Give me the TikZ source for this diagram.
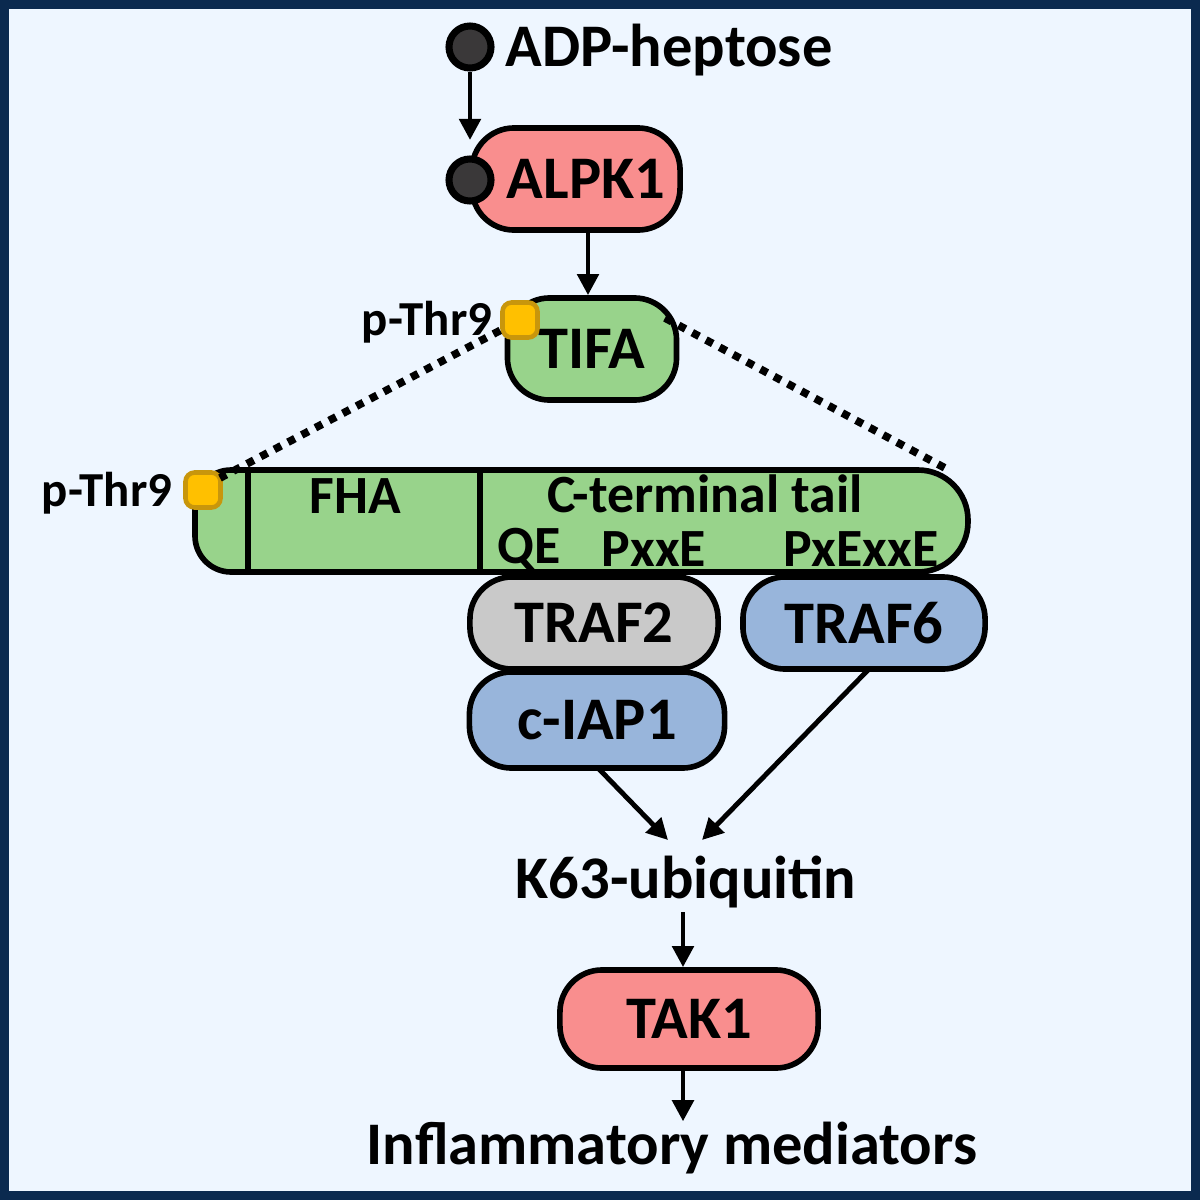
\documentclass[tikz,border=0pt]{standalone}
\usepackage{fontspec}
\setmainfont{Carlito}
\usetikzlibrary{arrows.meta}
\definecolor{bgc}{HTML}{EEF6FF}
\definecolor{navy}{HTML}{0B2A4F}
\definecolor{pinkc}{HTML}{F98E8E}
\definecolor{greenc}{HTML}{98D38B}
\definecolor{greyc}{HTML}{C9C9C9}
\definecolor{bluec}{HTML}{98B5DB}
\definecolor{yelc}{HTML}{FFC000}
\definecolor{yelb}{HTML}{C8960C}
\definecolor{ballc}{HTML}{3A3839}
\tikzset{
  prot/.style={draw=black, line width=1.6pt, rounded corners=0.42cm, font=\bfseries\fontsize{17.2}{19}\selectfont, inner sep=0pt},
  lbl/.style={font=\bfseries\fontsize{17.2}{19}\selectfont, inner sep=0pt},
  small/.style={font=\bfseries\fontsize{15.3}{17}\selectfont, inner sep=0pt},
  tiny/.style={font=\bfseries\fontsize{13.9}{15}\selectfont, inner sep=0pt},
  ball/.style={circle, draw=black, line width=2pt, fill=ballc, minimum size=0.42cm, inner sep=0pt},
  phos/.style={draw=yelb, fill=yelc, line width=1.3pt, rounded corners=2.6pt, minimum size=0.35cm, inner sep=0pt},
  arr/.style={line width=1.4pt, -{Triangle[length=6pt,width=6pt]}},
  dots/.style={line width=2.2pt, dash pattern=on 2.2pt off 2.2pt},
}
\begin{document}
\begin{tikzpicture}[x=0.01cm, y=-0.01cm]
\useasboundingbox (0,0) rectangle (1200,1200);
\fill[bgc] (0,0) rectangle (1200,1200);
\draw[navy, line width=2.6pt] (4.5,4.5) rectangle (1195.5,1195.5);

% ADP-heptose
\node[ball] (b1) at (470,47) {};
\node[lbl, anchor=west] (adp) at (505,50) {ADP-heptose};

% ALPK1
\node[prot, fill=pinkc, minimum width=2.08cm, minimum height=1.02cm] (alpk) at (576,179) {\hspace*{0.2cm}ALPK1};
\node[ball] (b2) at (470,180) {};
\draw[arr] (b1) -- (470,140);

% TIFA
\node[prot, fill=greenc, minimum width=1.69cm, minimum height=1.02cm] (tifa) at (592,349) {\raisebox{-6pt}{TIFA}};
\draw[arr] (alpk.south -| 588,0) -- (tifa.north -| 588,0);
\node[phos] (ph1) at (520,320) {};
\node[tiny, anchor=east] (pt1) at (493,322) {p-Thr9};

% long bar
\draw[line width=1.6pt, fill=greenc] (600,470) [rounded corners=0.36cm] -- (195,470) -- (195,572) -- (600,572) [rounded corners=0.5cm] -- (968,572) -- (968,470) -- cycle;
\draw[line width=1.6pt] (248,470) -- (248,572);
\draw[line width=1.6pt] (480,470) -- (480,572);
\node[small] (fha) at (355,496) {FHA};
\node[small] (ctail) at (705,494) {C-terminal tail};
\node[small] (qe) at (529,549) {QE};
\node[small] (pxxe) at (654,549) {PxxE};
\node[small] (pxexxe) at (861,549) {PxExxE};
\node[phos] (ph2) at (203,490) {};
\node[tiny, anchor=east] (pt2) at (173,493) {p-Thr9};

% dotted zoom lines
\coordinate (d1) at (220,478);
\coordinate (d2) at (945,468);
\coordinate (tne) at (665,318);
\draw[dots] (ph1) -- (d1);
\draw[dots] (tne) -- (d2);

% TRAFs
\node[prot, fill=greyc, minimum width=2.48cm, minimum height=0.92cm] (traf2) at (594,623) {TRAF2};
\node[prot, fill=bluec, minimum width=2.55cm, minimum height=0.96cm] (ciap) at (597,720) {c-IAP1};
\node[prot, fill=bluec, minimum width=2.42cm, minimum height=0.92cm] (traf6) at (864,623) {TRAF6};

% K63
\node[lbl] (k63) at (686,882) {K63-ubiquitin};
\coordinate (k63a) at (668,840);
\coordinate (k63b) at (702,840);
\draw[arr] (598,768) -- (k63a);
\draw[arr] (868,670) -- (k63b);

% TAK1
\node[prot, fill=pinkc, minimum width=2.58cm, minimum height=0.98cm] (tak) at (689,1019) {TAK1};
\draw[arr] (683,912) -- (tak.north -| 683,0);

\node[lbl] (infl) at (672,1148) {Inflammatory mediators};
\draw[arr] (tak.south -| 683,0) -- (infl.north -| 683,0);
\end{tikzpicture}
\end{document}
